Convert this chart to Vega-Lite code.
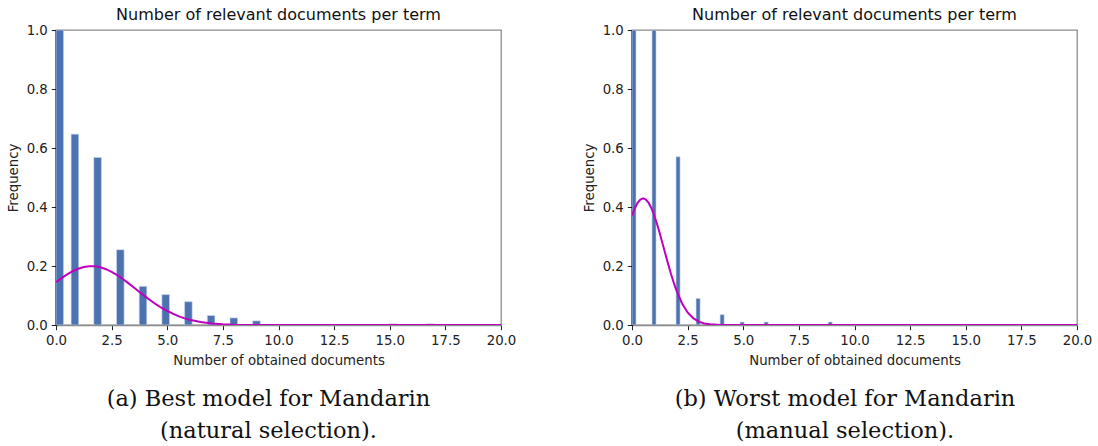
{
  "$schema": "https://vega.github.io/schema/vega-lite/v6.json",
  "background": "white",
  "padding": {"left": 5, "top": 6, "right": 5, "bottom": 0},
  "spacing": 64,
  "config": {
    "font": "DejaVu Sans",
    "view": {"stroke": "#8c8c8c", "strokeWidth": 1.3},
    "axis": {
      "grid": false,
      "labelFont": "DejaVu Sans",
      "labelFontSize": 13.3,
      "labelColor": "#222222",
      "labelFlush": false,
      "titleFont": "DejaVu Sans",
      "titleFontSize": 13.3,
      "titleFontWeight": "normal",
      "titleColor": "#222222",
      "tickColor": "#222222",
      "tickSize": 4.7,
      "tickWidth": 1,
      "labelPadding": 4,
      "titlePadding": 6
    },
    "title": {"font": "DejaVu Sans", "fontSize": 16, "fontWeight": "normal", "color": "#111111", "offset": 3, "dy": 3}
  },
  "datasets": {
    "bars": [
      {"panel": "a", "x0": 0.0, "x1": 0.34, "freq": 1.0},
      {"panel": "a", "x0": 0.68, "x1": 1.02, "freq": 0.647},
      {"panel": "a", "x0": 1.70, "x1": 2.04, "freq": 0.568},
      {"panel": "a", "x0": 2.72, "x1": 3.06, "freq": 0.255},
      {"panel": "a", "x0": 3.74, "x1": 4.08, "freq": 0.131},
      {"panel": "a", "x0": 4.76, "x1": 5.10, "freq": 0.103},
      {"panel": "a", "x0": 5.78, "x1": 6.12, "freq": 0.079},
      {"panel": "a", "x0": 6.80, "x1": 7.14, "freq": 0.032},
      {"panel": "a", "x0": 7.82, "x1": 8.16, "freq": 0.024},
      {"panel": "a", "x0": 8.84, "x1": 9.18, "freq": 0.014},
      {"panel": "a", "x0": 14.96, "x1": 15.30, "freq": 0.004},
      {"panel": "a", "x0": 16.66, "x1": 17.00, "freq": 0.004},
      {"panel": "b", "x0": 0.0, "x1": 0.18, "freq": 1.0},
      {"panel": "b", "x0": 0.90, "x1": 1.08, "freq": 1.0},
      {"panel": "b", "x0": 1.98, "x1": 2.16, "freq": 0.57},
      {"panel": "b", "x0": 2.88, "x1": 3.06, "freq": 0.09},
      {"panel": "b", "x0": 3.96, "x1": 4.14, "freq": 0.035},
      {"panel": "b", "x0": 4.86, "x1": 5.04, "freq": 0.01},
      {"panel": "b", "x0": 5.94, "x1": 6.12, "freq": 0.01},
      {"panel": "b", "x0": 8.82, "x1": 9.00, "freq": 0.01}
    ],
    "curve": [
      {"panel": "a", "x": 0.0, "y": 0.1449},
      {"panel": "a", "x": 0.25, "y": 0.1589},
      {"panel": "a", "x": 0.5, "y": 0.1715},
      {"panel": "a", "x": 0.75, "y": 0.1823},
      {"panel": "a", "x": 1.0, "y": 0.1907},
      {"panel": "a", "x": 1.25, "y": 0.1965},
      {"panel": "a", "x": 1.5, "y": 0.1992},
      {"panel": "a", "x": 1.75, "y": 0.1989},
      {"panel": "a", "x": 2.0, "y": 0.1955},
      {"panel": "a", "x": 2.25, "y": 0.1892},
      {"panel": "a", "x": 2.5, "y": 0.1803},
      {"panel": "a", "x": 2.75, "y": 0.1691},
      {"panel": "a", "x": 3.0, "y": 0.1561},
      {"panel": "a", "x": 3.25, "y": 0.1420},
      {"panel": "a", "x": 3.5, "y": 0.1270},
      {"panel": "a", "x": 3.75, "y": 0.1119},
      {"panel": "a", "x": 4.0, "y": 0.0971},
      {"panel": "a", "x": 4.25, "y": 0.0829},
      {"panel": "a", "x": 4.5, "y": 0.0697},
      {"panel": "a", "x": 4.75, "y": 0.0577},
      {"panel": "a", "x": 5.0, "y": 0.0480},
      {"panel": "a", "x": 5.25, "y": 0.0385},
      {"panel": "a", "x": 5.5, "y": 0.0300},
      {"panel": "a", "x": 5.75, "y": 0.0232},
      {"panel": "a", "x": 6.0, "y": 0.0177},
      {"panel": "a", "x": 6.5, "y": 0.0099},
      {"panel": "a", "x": 7.0, "y": 0.0052},
      {"panel": "a", "x": 7.5, "y": 0.0026},
      {"panel": "a", "x": 8.0, "y": 0.0012},
      {"panel": "a", "x": 9.0, "y": 0.0002},
      {"panel": "a", "x": 10.0, "y": 0.0},
      {"panel": "a", "x": 20.0, "y": 0.0},
      {"panel": "b", "x": 0.0, "y": 0.3713},
      {"panel": "b", "x": 0.125, "y": 0.3955},
      {"panel": "b", "x": 0.25, "y": 0.4138},
      {"panel": "b", "x": 0.375, "y": 0.4251},
      {"panel": "b", "x": 0.5, "y": 0.429},
      {"panel": "b", "x": 0.625, "y": 0.4251},
      {"panel": "b", "x": 0.75, "y": 0.4138},
      {"panel": "b", "x": 0.875, "y": 0.3955},
      {"panel": "b", "x": 1.0, "y": 0.3713},
      {"panel": "b", "x": 1.125, "y": 0.3423},
      {"panel": "b", "x": 1.25, "y": 0.3099},
      {"panel": "b", "x": 1.375, "y": 0.2756},
      {"panel": "b", "x": 1.5, "y": 0.2407},
      {"panel": "b", "x": 1.625, "y": 0.2064},
      {"panel": "b", "x": 1.75, "y": 0.1738},
      {"panel": "b", "x": 1.875, "y": 0.1438},
      {"panel": "b", "x": 2.0, "y": 0.1168},
      {"panel": "b", "x": 2.25, "y": 0.0731},
      {"panel": "b", "x": 2.5, "y": 0.0425},
      {"panel": "b", "x": 2.75, "y": 0.0230},
      {"panel": "b", "x": 3.0, "y": 0.0116},
      {"panel": "b", "x": 3.25, "y": 0.0054},
      {"panel": "b", "x": 3.5, "y": 0.0024},
      {"panel": "b", "x": 4.0, "y": 0.0004},
      {"panel": "b", "x": 5.0, "y": 0.0},
      {"panel": "b", "x": 20.0, "y": 0.0}
    ]
  },
  "hconcat": [
    {
      "title": {"text": ["(a) Best model for Mandarin", "(natural selection)."], "orient": "bottom", "anchor": "middle", "font": "DejaVu Serif", "fontSize": 22.5, "lineHeight": 32, "color": "#111111", "offset": 21, "dx": 7.5, "dy": 0},
      "vconcat": [
        {
          "width": 445,
          "height": 295,
          "title": "Number of relevant documents per term",
          "layer": [
            {
              "data": {"name": "bars"},
              "transform": [{"filter": "datum.panel === 'a'"}],
              "mark": {"type": "bar", "color": "#4c72b0", "stroke": "#c9d5ea", "strokeWidth": 0.6, "clip": true},
              "encoding": {
                "x": {"field": "x0", "type": "quantitative", "scale": {"domain": [0, 20], "nice": false}, "axis": {"values": [0, 2.5, 5, 7.5, 10, 12.5, 15, 17.5, 20], "format": ".1f", "title": "Number of obtained documents", "domainColor": "#8c8c8c", "domainWidth": 1.3}},
                "x2": {"field": "x1"},
                "y": {"field": "freq", "type": "quantitative", "scale": {"domain": [0, 1], "nice": false}, "axis": {"values": [0, 0.2, 0.4, 0.6, 0.8, 1.0], "format": ".1f", "title": "Frequency", "domainColor": "#000000", "domainWidth": 1.8}},
                "y2": {"datum": 0}
              }
            },
            {
              "data": {"name": "curve"},
              "transform": [{"filter": "datum.panel === 'a'"}],
              "mark": {"type": "line", "color": "#bf00bf", "strokeWidth": 2, "clip": true},
              "encoding": {
                "x": {"field": "x", "type": "quantitative"},
                "y": {"field": "y", "type": "quantitative"}
              }
            }
          ]
        }
      ]
    },
    {
      "title": {"text": ["(b) Worst model for Mandarin", "(manual selection)."], "orient": "bottom", "anchor": "middle", "font": "DejaVu Serif", "fontSize": 22.5, "lineHeight": 32, "color": "#111111", "offset": 21, "dx": 8, "dy": 0},
      "vconcat": [
        {
          "width": 445,
          "height": 295,
          "title": "Number of relevant documents per term",
          "layer": [
            {
              "data": {"name": "bars"},
              "transform": [{"filter": "datum.panel === 'b'"}],
              "mark": {"type": "bar", "color": "#4c72b0", "stroke": "#c9d5ea", "strokeWidth": 0.6, "clip": true},
              "encoding": {
                "x": {"field": "x0", "type": "quantitative", "scale": {"domain": [0, 20], "nice": false}, "axis": {"values": [0, 2.5, 5, 7.5, 10, 12.5, 15, 17.5, 20], "format": ".1f", "title": "Number of obtained documents", "domainColor": "#8c8c8c", "domainWidth": 1.3}},
                "x2": {"field": "x1"},
                "y": {"field": "freq", "type": "quantitative", "scale": {"domain": [0, 1], "nice": false}, "axis": {"values": [0, 0.2, 0.4, 0.6, 0.8, 1.0], "format": ".1f", "title": "Frequency", "domainColor": "#000000", "domainWidth": 1.8}},
                "y2": {"datum": 0}
              }
            },
            {
              "data": {"name": "curve"},
              "transform": [{"filter": "datum.panel === 'b'"}],
              "mark": {"type": "line", "color": "#bf00bf", "strokeWidth": 2, "clip": true},
              "encoding": {
                "x": {"field": "x", "type": "quantitative"},
                "y": {"field": "y", "type": "quantitative"}
              }
            }
          ]
        }
      ]
    }
  ]
}
